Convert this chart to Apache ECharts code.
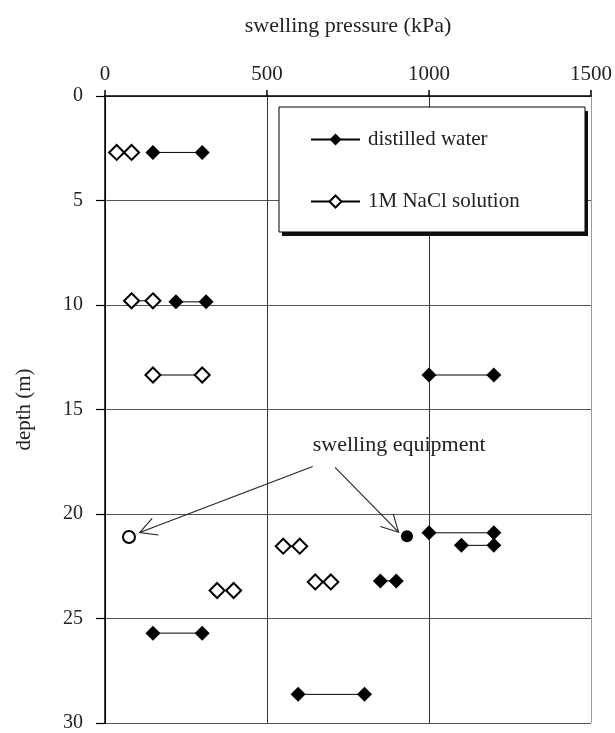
<!DOCTYPE html>
<html>
<head>
<meta charset="utf-8">
<script src="https://cdn.jsdelivr.net/npm/echarts@6/dist/echarts.min.js"></script>
<style>
html,body{margin:0;padding:0;background:#fff;}
#chart{width:615px;height:733px;}
</style>
</head>
<body>
<div id="chart"></div>
<script>
// ---- data ----
const xTicks = [0, 500, 1000, 1500];
const yTicks = [0, 5, 10, 15, 20, 25, 30];

// distilled water: pairs of measurements at each depth
const dwDepth = [2.7, 9.85, 13.35, 20.9, 21.5, 23.2, 25.7, 28.63];
const dwLow   = [148, 219, 1000, 1000, 1100, 850, 148, 596];
const dwHigh  = [300, 312, 1200, 1200, 1200, 899, 300, 801];

// 1M NaCl solution
const naDepth = [2.7, 9.8, 13.35, 21.54, 23.25, 23.66];
const naLow   = [36, 82, 148, 550, 649, 346];
const naHigh  = [82, 148, 300, 601, 697, 397];

// swelling equipment markers
const equipOpen   = [74, 21.1];
const equipFilled = [932, 21.07];

// annotation
const noteText = 'swelling equipment';
const notePos = [641, 16.7];
const arrowFrom = [[641, 17.73], [710, 17.77]];
const arrowTo   = [[107, 20.89], [906, 20.87]];

const FONT = 'Liberation Serif';
const chart = echarts.init(document.getElementById('chart'), null, {renderer: 'canvas'});

const series = [];
dwDepth.forEach((d, i) => {
  series.push({
    name: 'distilled water', type: 'line',
    data: [[dwLow[i], d], [dwHigh[i], dwDepth[i]]],
    symbol: 'diamond', symbolSize: 15,
    itemStyle: {color: '#000'},
    lineStyle: {color: '#000', width: 1},
    z: 3, animation: false
  });
});
naDepth.forEach((d, i) => {
  series.push({
    name: '1M NaCl solution', type: 'line',
    data: [[naLow[i], d], [naHigh[i], d]],
    symbol: 'emptyDiamond', symbolSize: 15,
    itemStyle: {color: '#000', borderColor: '#000', borderWidth: 1.2},
    lineStyle: {color: '#000', width: 1},
    z: 3, animation: false
  });
});
series.push({
  name: 'equipOpen', type: 'scatter', data: [equipOpen],
  symbol: 'emptyCircle', symbolSize: 12,
  itemStyle: {color: '#000', borderColor: '#000', borderWidth: 1.3, opacity: 1}, z: 3
});
series.push({
  name: 'equipFilled', type: 'scatter', data: [equipFilled],
  symbol: 'circle', symbolSize: 12,
  itemStyle: {color: '#000', opacity: 1}, z: 3
});
// arrows
series.push({
  name: 'arrows', type: 'custom', z: 4,
  data: arrowFrom.map((f, i) => [f[0], f[1], arrowTo[i][0], arrowTo[i][1]]),
  encode: {x: [0, 2], y: [1, 3]},
  renderItem: function (params, api) {
    const p1 = api.coord([api.value(0), api.value(1)]);
    const p2 = api.coord([api.value(2), api.value(3)]);
    const ang = Math.atan2(p1[1] - p2[1], p1[0] - p2[0]);
    const L = 19, h = 28 * Math.PI / 180;
    const b1 = [p2[0] + L * Math.cos(ang - h), p2[1] + L * Math.sin(ang - h)];
    const b2 = [p2[0] + L * Math.cos(ang + h), p2[1] + L * Math.sin(ang + h)];
    return {
      type: 'group',
      children: [
        {type: 'line', shape: {x1: p1[0], y1: p1[1], x2: p2[0], y2: p2[1]}, style: {stroke: '#222', lineWidth: 1.1}},
        {type: 'polyline', shape: {points: [b1, p2, b2]}, style: {stroke: '#222', lineWidth: 1.1, fill: null}}
      ]
    };
  }
});
series.push({
  name: 'note', type: 'custom', z: 4,
  data: [notePos],
  renderItem: function (params, api) {
    const p = api.coord([api.value(0), api.value(1)]);
    return {type: 'text', x: p[0], y: p[1],
      style: {text: noteText, fill: '#222', font: '22px "' + FONT + '"', align: 'left', verticalAlign: 'middle'}};
  }
});

const option = {
  backgroundColor: '#fff',
  animation: false,
  textStyle: {fontFamily: FONT},
  grid: {left: 105, right: 19, top: 96, bottom: 10, containLabel: false},
  graphic: [
    {type: 'rect', z: 5, shape: {x: 282, y: 111, width: 306, height: 125}, style: {fill: '#111'}},
    {type: 'rect', z: 5, shape: {x: 279, y: 107, width: 306, height: 125}, style: {fill: '#fff', stroke: '#000', lineWidth: 1}}
  ],
  legend: {
    data: ['distilled water', '1M NaCl solution'],
    orient: 'vertical',
    left: 310, top: 129,
    padding: 0, z: 6,
    itemWidth: 49, itemHeight: 15, itemGap: 41,
    textStyle: {fontFamily: FONT, fontSize: 21, color: '#222', padding: [0, 0, 0, 3]},
    selectedMode: false
  },
  xAxis: {
    type: 'value', position: 'top', min: 0, max: 1500, interval: 500,
    name: 'swelling pressure (kPa)', nameLocation: 'middle', nameGap: 59,
    nameTextStyle: {fontFamily: FONT, fontSize: 22, color: '#222'},
    axisLine: {show: true, lineStyle: {color: '#000', width: 1.5}},
    axisTick: {show: true, length: 6, lineStyle: {color: '#000', width: 1.5}},
    axisLabel: {fontFamily: FONT, fontSize: 21, color: '#222', margin: 11,
      formatter: v => xTicks.includes(v) ? String(v) : ''},
    splitLine: {show: true, lineStyle: {color: ['#000', '#333', '#333', '#999'], width: 1}}
  },
  yAxis: {
    type: 'value', inverse: true, min: 0, max: 30, interval: 5,
    name: 'depth (m)', nameLocation: 'middle', nameGap: 70, nameRotate: 90,
    nameTextStyle: {fontFamily: FONT, fontSize: 21, color: '#222'},
    axisLine: {show: true, lineStyle: {color: '#000', width: 1.5}},
    axisTick: {show: true, length: 9, lineStyle: {color: '#000', width: 1.2}},
    axisLabel: {fontFamily: FONT, fontSize: 20, color: '#222', margin: 22,
      formatter: v => yTicks.includes(v) ? String(v) : ''},
    splitLine: {show: true, lineStyle: {color: '#555', width: 1}}
  },
  series: series
};
chart.setOption(option);
</script>
</body>
</html>
